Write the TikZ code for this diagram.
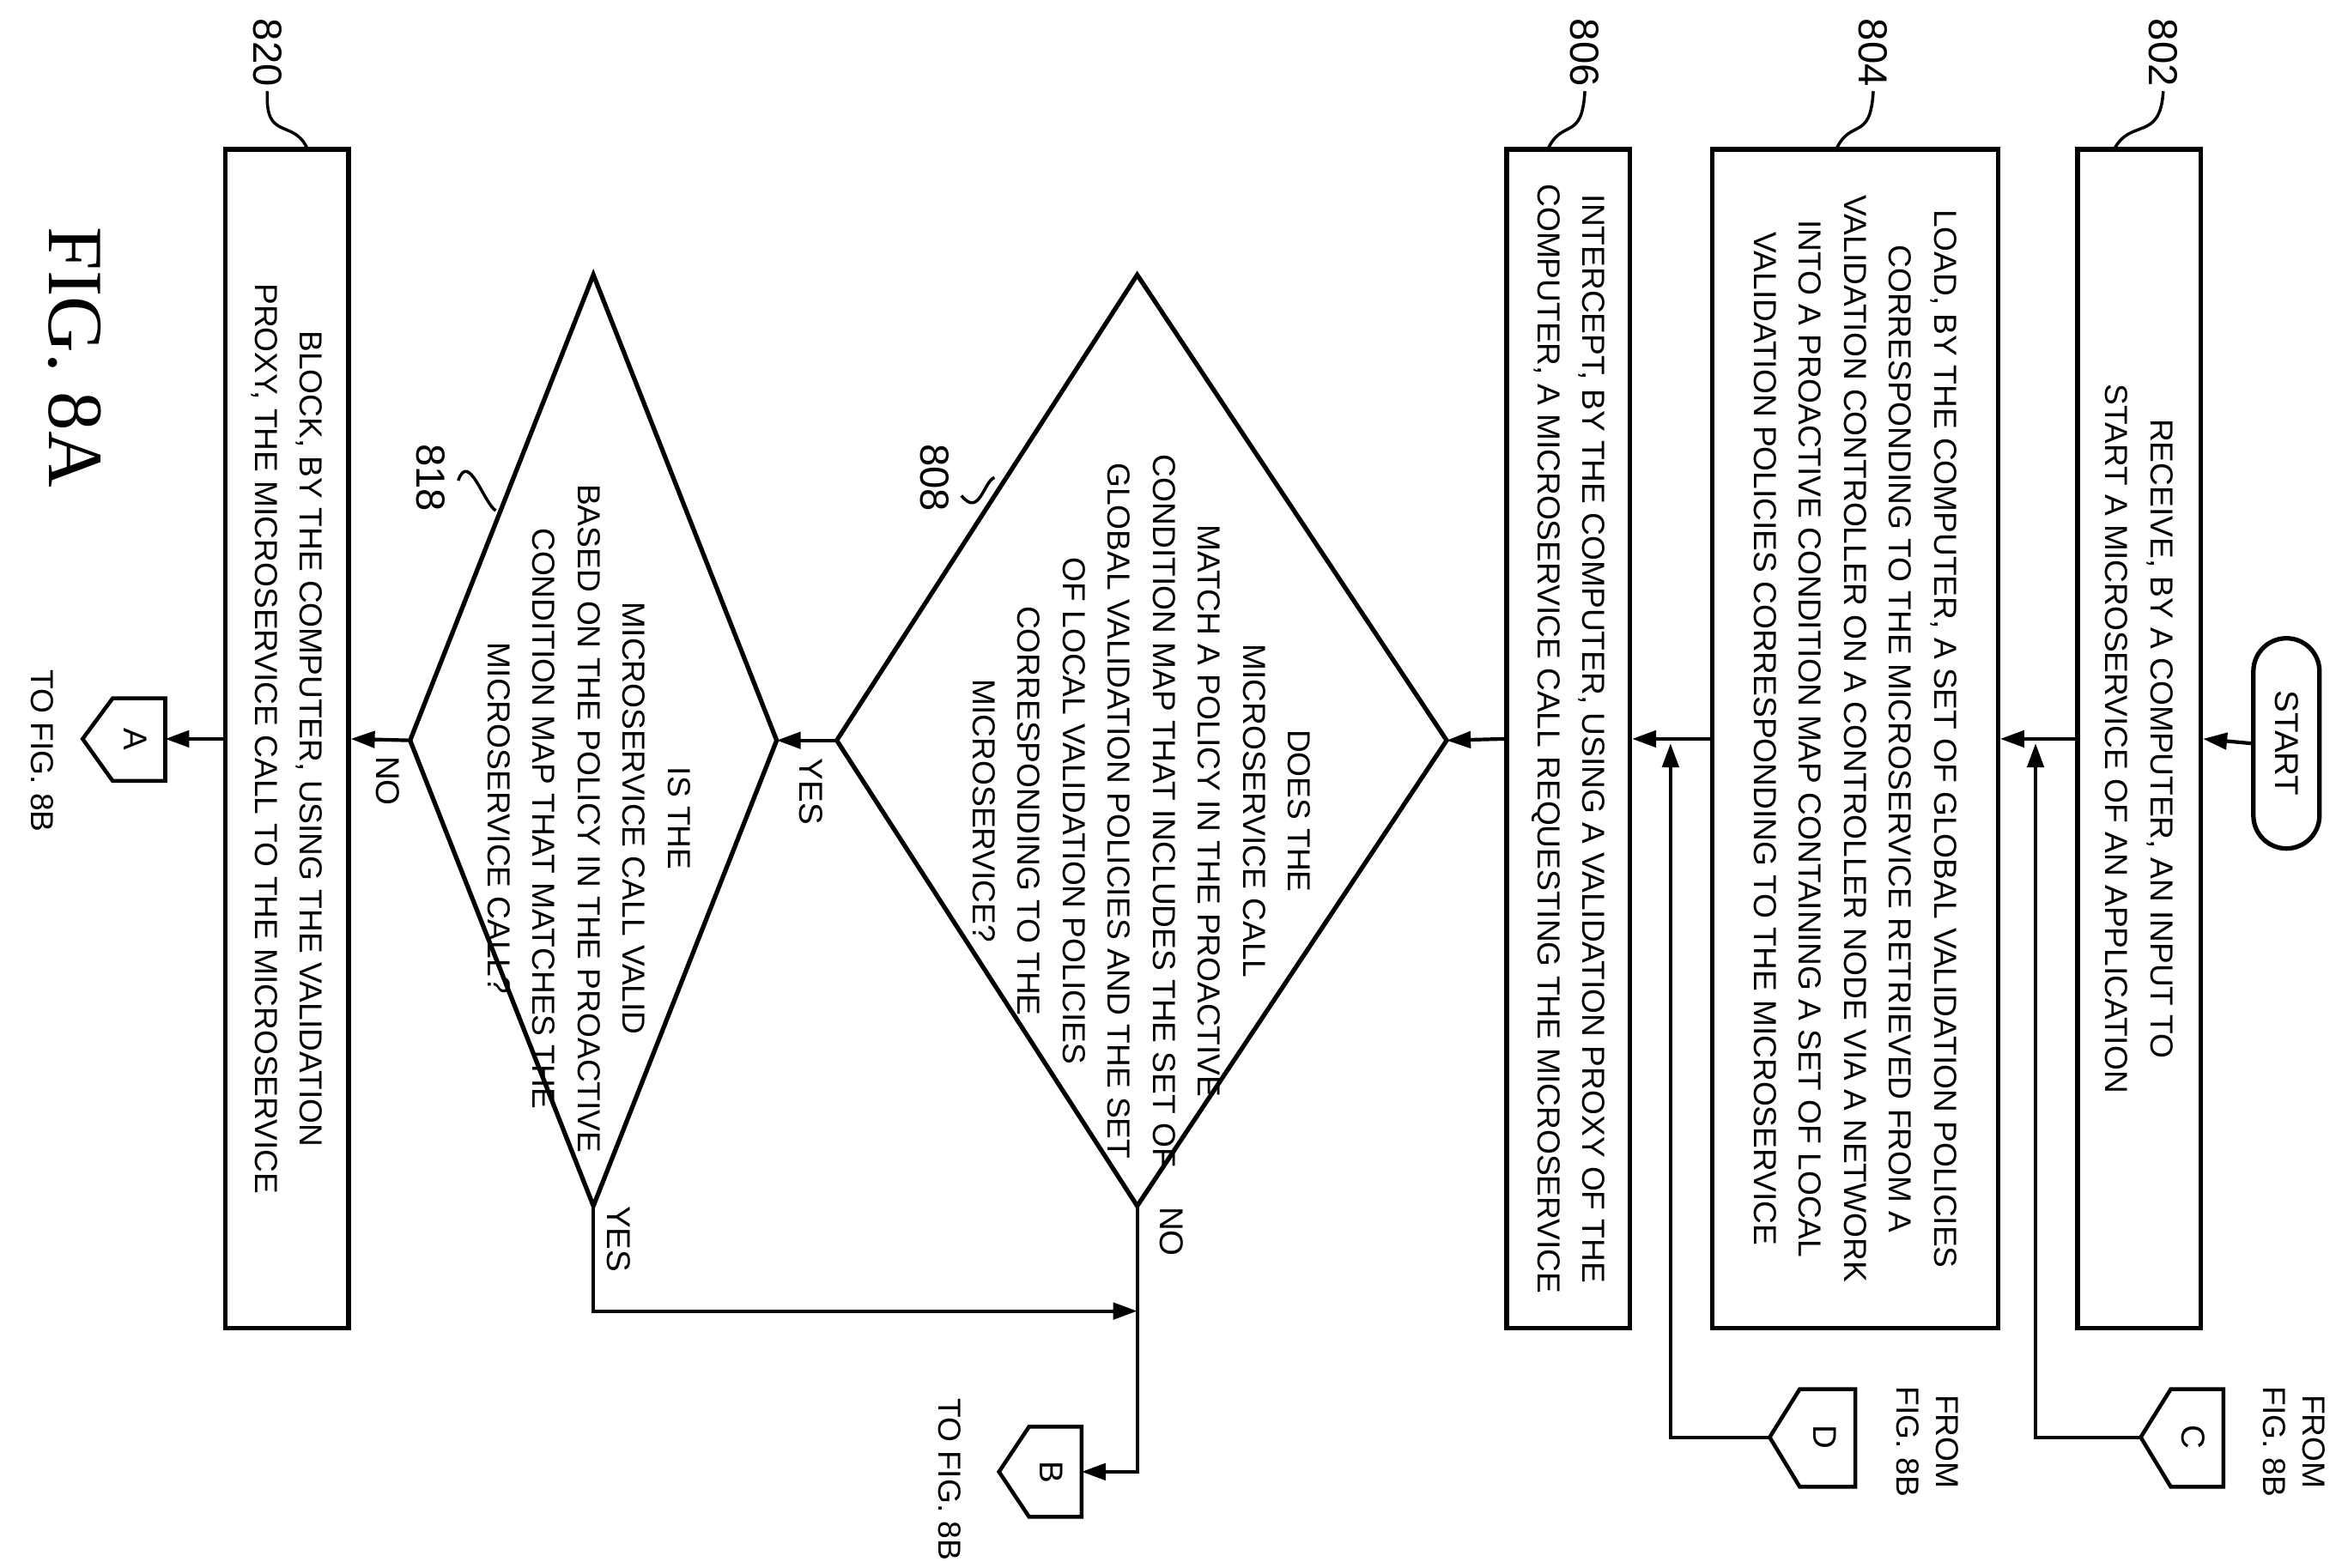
\documentclass[tikz,border=0pt]{standalone}
\usepackage{fontspec}
\setmainfont{Liberation Sans}
\newfontfamily\serfont{Liberation Serif}
\usetikzlibrary{arrows.meta}
\begin{document}
\begin{tikzpicture}[x=0.5pt,y=-0.5pt,line width=1.2pt,
  ar/.style={-{Triangle[length=8pt,width=5.5pt]}},
  box/.style={draw,line width=1.5pt,rotate=-90,minimum width=392.5pt,minimum height=41pt,align=center,inner sep=2pt,font=\fontsize{10.6}{15}\selectfont},
  txt/.style={rotate=-90,align=center,inner sep=1pt,font=\fontsize{10.6}{15}\selectfont},
  num/.style={rotate=-90,inner sep=1pt,font=\fontsize{11}{13}\selectfont},
  big/.style={rotate=-90,inner sep=1pt,font=\fontsize{13.5}{16}\selectfont},
  dia/.style={line width=1.5pt}]
\useasboundingbox (0,0) rectangle (1563,1044);
% terminal
\node[draw,line width=1.5pt,rotate=-90,rounded corners=11pt,minimum width=70pt,minimum height=22pt,inner sep=0pt,font=\fontsize{11}{13}\selectfont] (start) at (1522,495) {START};
% boxes
\node[box] (b802) at (1424,492) {RECEIVE, BY A COMPUTER, AN INPUT TO\\START A MICROSERVICE OF AN APPLICATION};
\node[box,minimum height=95pt] (b804) at (1235,492) {LOAD, BY THE COMPUTER, A SET OF GLOBAL VALIDATION POLICIES\\CORRESPONDING TO THE MICROSERVICE RETRIEVED FROM A\\VALIDATION CONTROLLER ON A CONTROLLER NODE VIA A NETWORK\\INTO A PROACTIVE CONDITION MAP CONTAINING A SET OF LOCAL\\VALIDATION POLICIES CORRESPONDING TO THE MICROSERVICE};
\node[box] (b806) at (1044,492) {INTERCEPT, BY THE COMPUTER, USING A VALIDATION PROXY OF THE\\COMPUTER, A MICROSERVICE CALL REQUESTING THE MICROSERVICE};
\node[box] (b820) at (191,492) {BLOCK, BY THE COMPUTER, USING THE VALIDATION\\PROXY, THE MICROSERVICE CALL TO THE MICROSERVICE};
% diamonds
\coordinate (d8r) at (963,493); \coordinate (d8l) at (557,493);
\coordinate (d8t) at (757,183); \coordinate (d8b) at (757,803);
\draw[dia] (d8r) -- (d8t) -- (d8l) -- (d8b) -- cycle;
\node[txt] (t808) at (760,540) {DOES THE\\MICROSERVICE CALL\\MATCH A POLICY IN THE PROACTIVE\\CONDITION MAP THAT INCLUDES THE SET OF\\GLOBAL VALIDATION POLICIES AND THE SET\\OF LOCAL VALIDATION POLICIES\\CORRESPONDING TO THE\\MICROSERVICE?};
\coordinate (d18r) at (517,493); \coordinate (d18l) at (273,493);
\coordinate (d18t) at (395,183); \coordinate (d18b) at (395,803);
\draw[dia] (d18r) -- (d18t) -- (d18l) -- (d18b) -- cycle;
\node[txt] (t818) at (392,545) {IS THE\\MICROSERVICE CALL VALID\\BASED ON THE POLICY IN THE PROACTIVE\\CONDITION MAP THAT MATCHES THE\\MICROSERVICE CALL?};
% connectors
\draw[line width=1.3pt] (1480,925) -- (1480,990) -- (1445,990) -- (1425,957) -- (1445,925) -- cycle;
\node[num] (cC) at (1460,957) {C};
\coordinate (cCt) at (1425,957);
\draw[line width=1.3pt] (1235,925) -- (1235,990) -- (1198,990) -- (1178,957) -- (1198,925) -- cycle;
\node[num] (cD) at (1215,957) {D};
\coordinate (cDt) at (1178,957);
\draw[line width=1.3pt] (110,465) -- (110,520) -- (75,520) -- (55,492) -- (75,465) -- cycle;
\node[num] (cA) at (90,492) {A};
\coordinate (cAr) at (110,492);
\draw[line width=1.3pt] (720,950) -- (720,1010) -- (685,1010) -- (665,980) -- (685,950) -- cycle;
\node[num] (cB) at (700,980) {B};
\coordinate (cBr) at (720,980);
\node[txt,font=\fontsize{10.6}{13}\selectfont] (fc) at (1527,960) {FROM\\FIG. 8B};
\node[txt,font=\fontsize{10.6}{13}\selectfont] (fd) at (1283,960) {FROM\\FIG. 8B};
\node[txt,font=\fontsize{10.6}{13}\selectfont] (ta) at (28,500) {TO FIG. 8B};
\node[txt,font=\fontsize{10.6}{13}\selectfont] (tb) at (632,985) {TO FIG. 8B};
% arrows
\draw[ar] (start.south) -- (b802.north);
\draw[ar] (b802.south) -- (b804.north);
\draw[ar] (b804.south) -- (b806.north);
\draw[ar] (b806.south) -- (d8r);
\draw[ar] (d8l) -- (d18r);
\draw[ar] (d18l) -- (b820.north);
\draw[ar] (b820.south) -- (cAr);
\coordinate (jC) at (1355,495); \coordinate (jD) at (1112,495);
\draw[ar] (cCt) -| (jC);
\draw[ar] (cDt) -| (jD);
\coordinate (k1) at (757,980); \coordinate (k2) at (395,873); \coordinate (k3) at (757,873);
\draw[ar] (d8b) -- (k1) -- (cBr);
\draw[ar] (d18b) -- (k2) -- (k3);
% labels
\node[num] (yes1) at (540,527) {YES};
\node[num] (no1) at (258,520) {NO};
\node[num] (no2) at (780,820) {NO};
\node[num] (yes2) at (412,825) {YES};
\node[big] (l802) at (1440,35) {802};
\node[big] (l804) at (1247,35) {804};
\node[big] (l806) at (1055,35) {806};
\node[big] (l820) at (178,35) {820};
\node[big] (l808) at (622,318) {808};
\node[big] (l818) at (287,318) {818};
\draw[line width=1pt] (l802.east) .. controls (1438,95) and (1418,78) .. (1407,100);
\draw[line width=1pt] (l804.east) .. controls (1245,95) and (1232,78) .. (1222,100);
\draw[line width=1pt] (l806.east) .. controls (1053,95) and (1040,78) .. (1030,100);
\draw[line width=1pt] (l820.east) .. controls (176,95) and (196,78) .. (205,100);
\draw[line width=1pt] (640,330) .. controls (652,345) and (655,320) .. (662,318);
\draw[line width=1pt] (305,320) .. controls (312,300) and (322,335) .. (330,340);
\node[rotate=-90,inner sep=0pt,font=\serfont\fontsize{26}{30}\selectfont] (fig) at (50,238) {FIG. 8A};
\end{tikzpicture}
\end{document}
